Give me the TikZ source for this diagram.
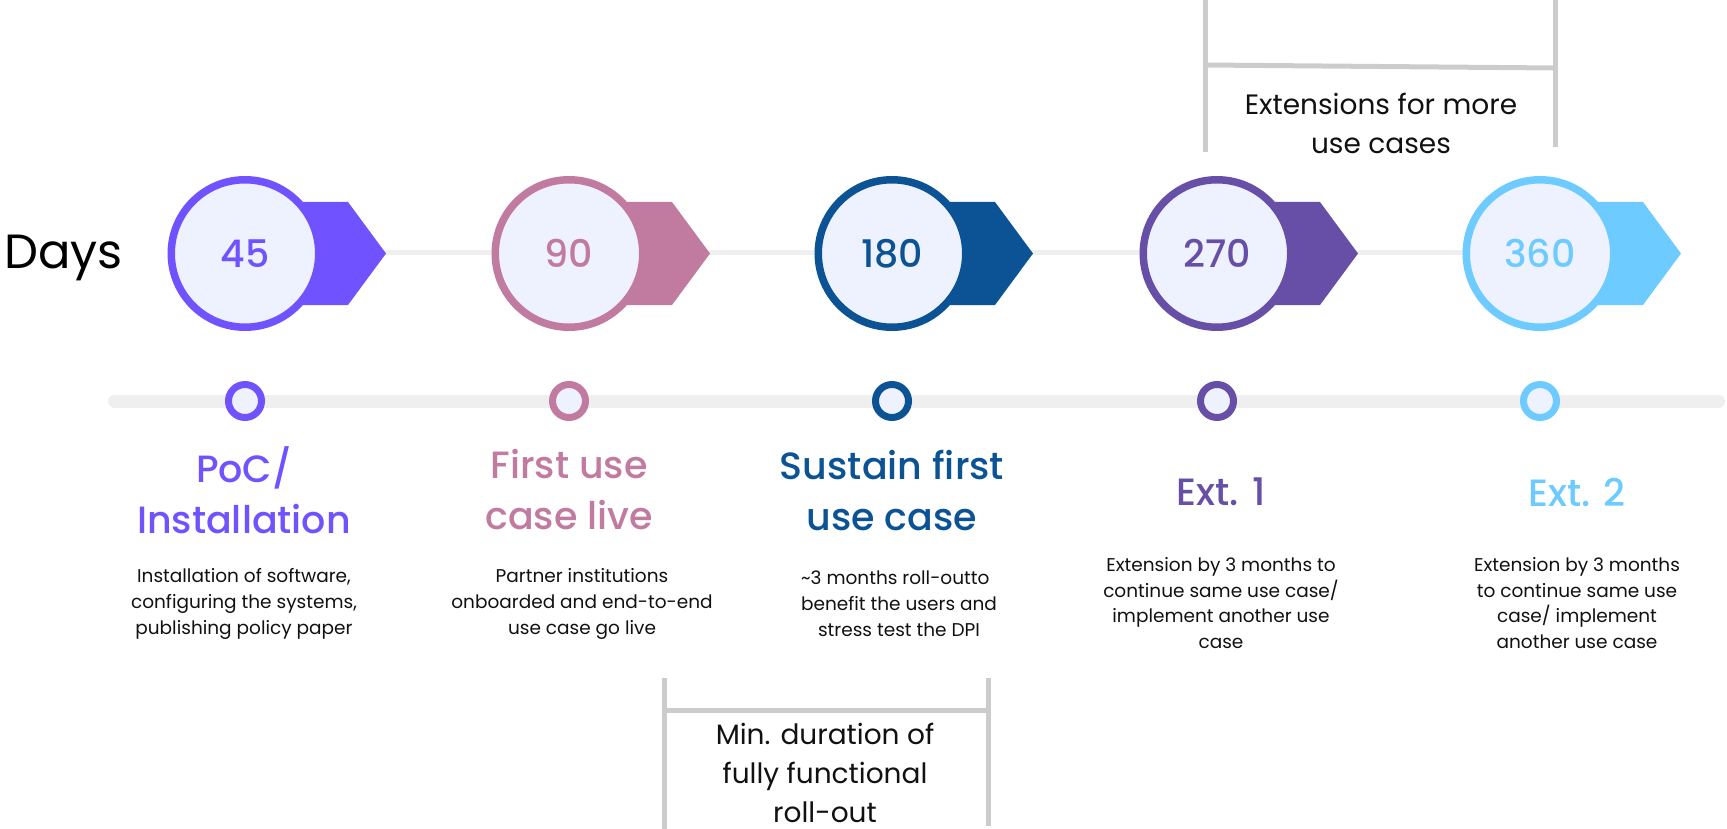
\documentclass[tikz,border=0pt]{standalone}
\usepackage{fontspec}
\setmainfont{Poppins}
\newfontfamily\medfont{Poppins Medium}
\definecolor{cA}{HTML}{7152FF}
\definecolor{cB}{HTML}{C27BA0}
\definecolor{cC}{HTML}{0B5394}
\definecolor{cD}{HTML}{674EA7}
\definecolor{cE}{HTML}{6DCBFF}
\definecolor{disc}{HTML}{EEF2FF}
\definecolor{track}{HTML}{EFEFEF}
\definecolor{brk}{HTML}{CCCCCC}
\definecolor{ink}{HTML}{111111}
\tikzset{
  bigdisc/.style={circle, minimum size=147.5pt, inner sep=0pt, fill=disc, line width=7.5pt, draw=#1, text=#1, font=\medfont\fontsize{38}{40}\selectfont},
  smalldisc/.style={circle, minimum size=33pt, inner sep=0pt, fill=disc, line width=7pt, draw=#1},
  titletext/.style={align=center, inner sep=0pt, text=#1, font=\medfont\fontsize{38}{51}\selectfont},
  desctext/.style={align=center, inner sep=0pt, text=ink, font=\fontsize{18.5}{25.8}\selectfont},
  brtext/.style={align=center, inner sep=0pt, text=ink, font=\fontsize{28}{39}\selectfont},
  bracketline/.style={draw=brk, line width=5pt},
}
\begin{document}
\begin{tikzpicture}[x=1pt,y=-1pt]
\useasboundingbox (0,0) rectangle (1727,829);
% tracks
\coordinate (tA) at (245,253);
\coordinate (tB) at (1540,253);
\draw[track, line width=5pt] (tA) -- (tB);
\coordinate (lA) at (114.5,401);
\coordinate (lB) at (1718.5,401);
\draw[track, line width=13pt, line cap=round] (lA) -- (lB);
% Days
\node[anchor=base west, inner sep=0pt, font=\fontsize{48}{50}\selectfont] (days) at (4,269) {Days};
% milestones
\foreach \cx/\col/\num/\nm in {245/cA/45/a, 569/cB/90/b, 892/cC/180/c, 1217/cD/270/d, 1540/cE/360/e}{
  \fill[\col] (\cx,202) -- (\cx+103,202) -- (\cx+141,253.5) -- (\cx+103,305) -- (\cx,305) -- cycle;
  \node[bigdisc=\col] (big\nm) at (\cx,253.5) {\num};
  \node[smalldisc=\col] (small\nm) at (\cx,401) {};
}
% titles
\node[titletext=cA] (ta) at (244,490) {PoC/\\Installation};
\node[titletext=cB] (tb) at (569,490) {First use\\case live};
\node[titletext=cC] (tc) at (892,490) {Sustain first\\use case};
\node[titletext=cD] (td) at (1221,492) {Ext. 1};
\node[titletext=cE] (te) at (1577,492) {Ext. 2};
% descriptions
\node[desctext] (da) at (244,604) {Installation of software,\\configuring the systems,\\publishing policy paper};
\node[desctext] (db) at (582,604) {Partner institutions\\onboarded and end-to-end\\use case go live};
\node[desctext] (dc) at (899,604) {\textasciitilde3 months roll-outto\hspace*{0.4em}\\benefit the users and\\stress test the DPI};
\node[desctext] (dd) at (1221,603) {Extension by 3 months to\\continue same use case/\\implement another use\\case};
\node[desctext] (de) at (1577,603) {Extension by 3 months\\to continue same use\\case/ implement\\another use case};
% top bracket
\coordinate (u1) at (1205,0);
\coordinate (u2) at (1205,152);
\coordinate (u3) at (1555,0);
\coordinate (u4) at (1555,147);
\coordinate (u5) at (1205,65);
\coordinate (u6) at (1555,68);
\draw[bracketline] (u1) -- (u2);
\draw[bracketline] (u3) -- (u4);
\draw[bracketline] (u5) -- (u6);
\node[brtext] (ext) at (1381,123) {Extensions for more\\use cases};
% bottom bracket
\coordinate (v1) at (664,678);
\coordinate (v2) at (664,829);
\coordinate (v3) at (988,678);
\coordinate (v4) at (988,826);
\coordinate (v5) at (664,710);
\coordinate (v6) at (988,710);
\draw[bracketline] (v1) -- (v2);
\draw[bracketline] (v3) -- (v4);
\draw[bracketline] (v5) -- (v6);
\node[brtext] (mind) at (825,773) {Min. duration of\\fully functional\\roll-out};
\end{tikzpicture}
\end{document}
